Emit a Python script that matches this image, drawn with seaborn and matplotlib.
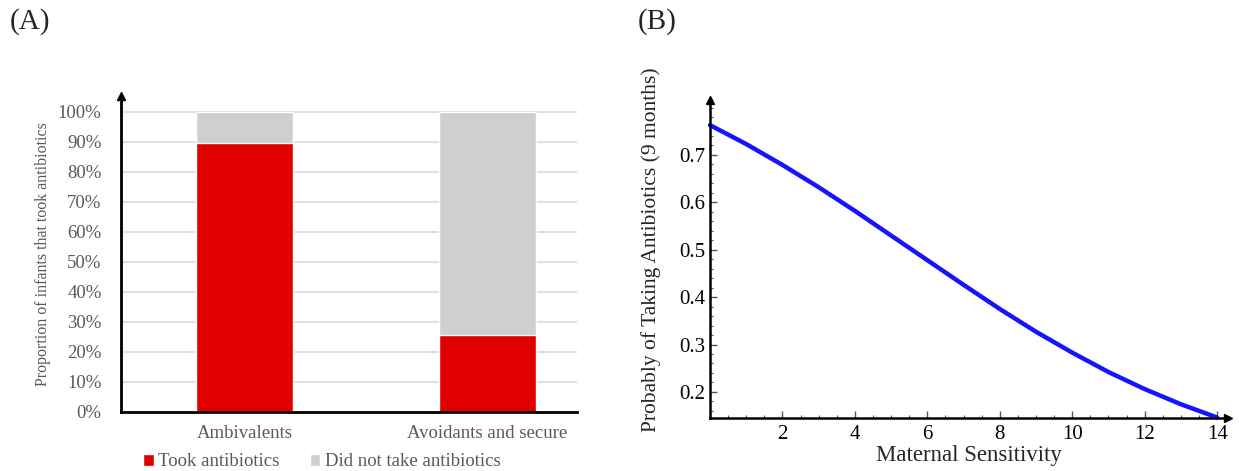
import numpy as np
import pandas as pd
import seaborn as sns
import matplotlib.pyplot as plt
from matplotlib.patches import Patch
from matplotlib.ticker import MultipleLocator, PercentFormatter

# panel A: stacked proportions
groups = ['Ambivalents', 'Avoidants and secure']
took = [0.897, 0.255]
total = [1.0, 1.0]

# panel B: fitted probability vs maternal sensitivity
sensitivity = [0, 1, 2, 3, 4, 5, 6, 7, 8, 9, 10, 11, 12, 13, 14]
prob = [0.763, 0.723, 0.679, 0.632, 0.582, 0.530, 0.478, 0.426,
        0.375, 0.327, 0.283, 0.242, 0.206, 0.174, 0.146]

sns.set_style('white')
plt.rcParams['font.family'] = ['Liberation Serif', 'DejaVu Serif']

RED = '#e00000'
GREY = '#d0cecf'
TXT = '#595959'

W, H = 1239, 471
fig = plt.figure(figsize=(W / 100, H / 100), dpi=100)

def frac(x0, y0, x1, y1):
    return [x0 / W, 1 - y1 / H, (x1 - x0) / W, (y1 - y0) / H]

# ---------- panel A ----------
axA = fig.add_axes(frac(121, 96, 577, 412))
dfA = pd.DataFrame({'group': groups, 'took': took, 'total': total})
sns.barplot(data=dfA, x='group', y='total', color=GREY, width=0.4,
            saturation=1, ax=axA, zorder=2)
sns.barplot(data=dfA, x='group', y='took', color=RED, width=0.4,
            saturation=1, ax=axA, zorder=3)
axA.set_ylim(0, 1.0533)
axA.set_xlim(-0.508, 1.37)
axA.yaxis.set_major_locator(MultipleLocator(0.1))
axA.yaxis.set_major_formatter(PercentFormatter(1.0, decimals=0))
axA.grid(axis='y', color='#e0e0e0', linewidth=1.5, zorder=0)
axA.set_axisbelow(True)
for s in ['top', 'right']:
    axA.spines[s].set_visible(False)
for s in ['left', 'bottom']:
    axA.spines[s].set_color('black')
    axA.spines[s].set_linewidth(2)
    axA.spines[s].set_zorder(5)
axA.plot([0], [1], marker='^', color='black', markersize=6,
         transform=axA.transAxes, clip_on=False)
axA.tick_params(axis='both', length=0, colors=TXT, labelsize=13.5)
axA.tick_params(axis='y', pad=14)
axA.tick_params(axis='x', pad=9)
axA.set_xlabel('')
axA.set_ylabel('Proportion of infants that took antibiotics', color=TXT,
               fontsize=11.5, labelpad=5)

handles = [Patch(facecolor=RED, label='Took antibiotics'),
           Patch(facecolor=GREY, label='Did not take antibiotics')]
leg = fig.legend(handles=handles, loc='center', ncol=2, frameon=False,
                 bbox_to_anchor=(322 / W, 1 - 462 / H), fontsize=13.5,
                 handlelength=0.55, handleheight=0.55, handletextpad=0.25,
                 columnspacing=1.6)
for t in leg.get_texts():
    t.set_color(TXT)

# ---------- panel B ----------
axB = fig.add_axes(frac(710, 100, 1228, 418))
dfB = pd.DataFrame({'sensitivity': sensitivity, 'prob': prob})
sns.lineplot(data=dfB, x='sensitivity', y='prob', color='#1414ff',
             linewidth=3.2, ax=axB, clip_on=False)
axB.set_xlim(0, 14.3)
axB.set_ylim(0.145, 0.816)
for s in ['top', 'right']:
    axB.spines[s].set_visible(False)
for s in ['left', 'bottom']:
    axB.spines[s].set_color('black')
    axB.spines[s].set_linewidth(1.8)
axB.plot([0], [1], marker='^', color='black', markersize=6,
         transform=axB.transAxes, clip_on=False)
axB.plot([1], [0], marker='>', color='black', markersize=6,
         transform=axB.transAxes, clip_on=False)
axB.xaxis.set_major_locator(MultipleLocator(2))
axB.xaxis.set_minor_locator(MultipleLocator(0.5))
axB.yaxis.set_major_locator(MultipleLocator(0.1))
axB.yaxis.set_minor_locator(MultipleLocator(0.02))
axB.set_xticks([2, 4, 6, 8, 10, 12, 14])
axB.set_yticks([0.2, 0.3, 0.4, 0.5, 0.6, 0.7])
axB.tick_params(which='both', direction='in', color='#555555', labelsize=15,
                colors='black', bottom=True, left=True)
axB.tick_params(which='major', length=5, width=1)
axB.tick_params(which='minor', length=2.5, width=0.8)
axB.tick_params(axis='x', pad=5)
axB.set_xlabel('Maternal Sensitivity', fontsize=16.5, labelpad=1)
axB.set_ylabel('Probably of Taking Antibiotics (9 months)', fontsize=15.5,
               labelpad=6)
axB.yaxis.set_label_coords(-0.095, 0.53)

fig.text(10 / W, 1 - 22 / H, '(A)', fontsize=21, va='center', ha='left')
fig.text(638 / W, 1 - 22 / H, '(B)', fontsize=21, va='center', ha='left')

fig.savefig('out.png', dpi=100)
